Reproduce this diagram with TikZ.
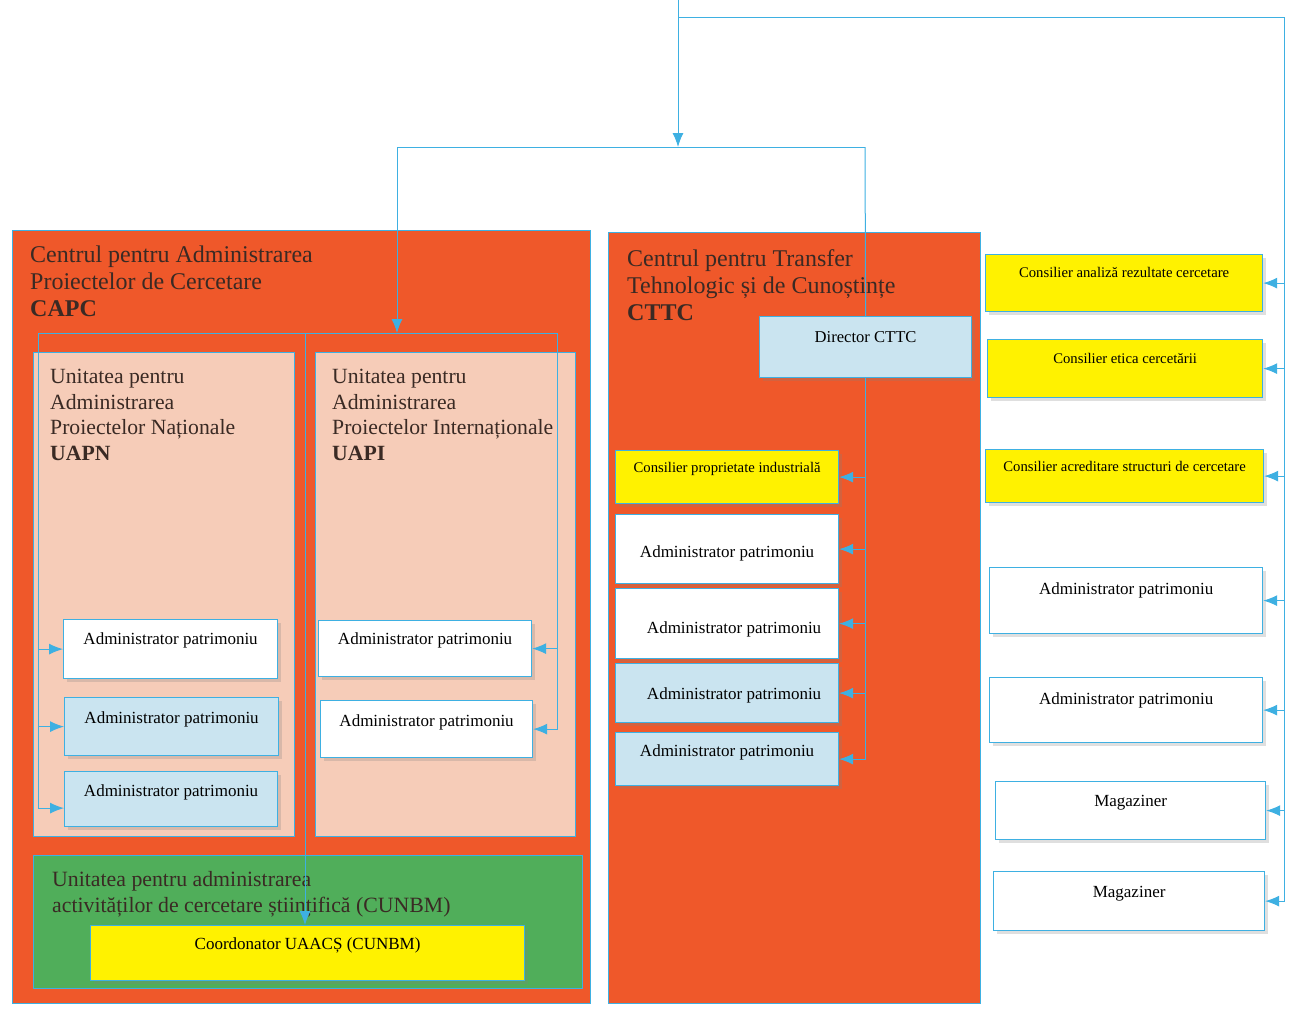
\documentclass[tikz,border=0pt]{standalone}
\usepackage{fontspec}
\setmainfont{Liberation Serif}
\usepackage{tikz}
\usetikzlibrary{arrows.meta}
\usetikzlibrary{shadows}
\definecolor{rosu}{RGB}{239,88,42}
\definecolor{piersica}{RGB}{246,204,184}
\definecolor{verde}{RGB}{80,174,90}
\definecolor{galben}{RGB}{255,242,0}
\definecolor{bleu}{RGB}{202,228,240}
\definecolor{linie}{RGB}{62,176,226}
\definecolor{titlu}{RGB}{58,42,36}
\tikzstyle{zona}=[draw=linie, line width=1.2pt, anchor=north west, inner sep=0pt]
\tikzstyle{caseta}=[zona, drop shadow={opacity=0.25, shadow xshift=3pt, shadow yshift=-3pt}]
\tikzstyle{eticheta}=[anchor=north, inner sep=0pt, font=\fontsize{17}{20}\selectfont]
\tikzstyle{mic}=[eticheta, font=\fontsize{14.7}{17}\selectfont]
\tikzstyle{titlumare}=[anchor=north west, inner sep=0pt, align=left, text=titlu,
font=\fontsize{24}{27}\selectfont]
\tikzstyle{titlumic}=[titlumare, font=\fontsize{21.7}{25.7}\selectfont]
\tikzstyle{legatura}=[draw=linie, line width=1pt]
\tikzstyle{sageata}=[legatura, -{Latex[length=14pt, width=11pt]}]

\begin{document}
\begin{tikzpicture}
	[x=1pt, y=-1pt]
	\useasboundingbox (0,0) rectangle (1289,1012);
	% centrele mari
	\node[zona, fill=rosu, minimum width=578pt, minimum height=773pt,
	label={[titlumare, xshift=18pt, yshift=-16pt]north west:{Centrul pentru Administrarea\\Proiectelor de Cercetare\\\textbf{CAPC}}}] (capc) at (12,230) {};
	\node[zona, fill=rosu, minimum width=372pt, minimum height=771pt,
	label={[titlumare, xshift=19pt, yshift=-17pt]north west:{Centrul pentru Transfer\\Tehnologic și de Cunoștințe\\\textbf{CTTC}}}] (cttc) at (608,232) {};
	
	% unitatile CAPC
	\node[zona, fill=piersica, minimum width=261pt, minimum height=484pt,
	label={[titlumic, xshift=17pt, yshift=-17pt]north west:{Unitatea pentru\\Administrarea\\Proiectelor Naționale\\\textbf{UAPN}}}] (uapn) at (33,352) {};
	\node[zona, fill=piersica, minimum width=260pt, minimum height=484pt,
	label={[titlumic, xshift=17pt, yshift=-17pt]north west:{Unitatea pentru\\Administrarea\\Proiectelor Internaționale\\\textbf{UAPI}}}] (uapi) at (315,352) {};
	\node[zona, fill=verde, minimum width=549pt, minimum height=133pt,
	label={[titlumic, font=\fontsize{21.8}{26}\selectfont, xshift=19pt, yshift=-16pt]north west:{Unitatea pentru administrarea\\activităților de cercetare științifică (CUNBM)}}] (cunbm) at (33,855) {};
	\node[caseta, fill=galben, minimum width=434pt, minimum height=55pt,
	label={[eticheta, yshift=-12pt]north:Coordonator UAACȘ (CUNBM)}] (coord) at (90,925) {};
	
	\node[caseta, fill=white, minimum width=214pt, minimum height=59pt,
	label={[eticheta, yshift=-13pt]north:Administrator patrimoniu}] (u1) at (63,619) {};
	\node[caseta, fill=bleu, minimum width=214pt, minimum height=58pt,
	label={[eticheta, yshift=-14pt]north:Administrator patrimoniu}] (u2) at (64,697) {};
	\node[caseta, fill=bleu, minimum width=213pt, minimum height=55pt,
	label={[eticheta, yshift=-13pt]north:Administrator patrimoniu}] (u3) at (64,771) {};
	\node[caseta, fill=white, minimum width=213pt, minimum height=56pt,
	label={[eticheta, yshift=-12pt]north:Administrator patrimoniu}] (i1) at (318,620) {};
	\node[caseta, fill=white, minimum width=212pt, minimum height=57pt,
	label={[eticheta, yshift=-14pt]north:Administrator patrimoniu}] (i2) at (320,700) {};
	
	% CTTC
	\node[caseta, fill=bleu, minimum width=212pt, minimum height=61pt,
	label={[eticheta, font=\fontsize{16.6}{20}\selectfont, yshift=-15pt]north:Director CTTC}] (dir) at (759,316) {};
	\node[caseta, fill=galben, minimum width=223pt, minimum height=53pt,
	label={[mic, yshift=-12pt]north:Consilier proprietate industrială}] (c1) at (615,450) {};
	\node[caseta, fill=white, minimum width=223pt, minimum height=69pt,
	label={[eticheta, yshift=-31pt]north:Administrator patrimoniu}] (c2) at (615,514) {};
	\node[caseta, fill=white, minimum width=223pt, minimum height=70pt,
	label={[eticheta, xshift=7pt, yshift=-33pt]north:Administrator patrimoniu}] (c3) at (615,588) {};
	\node[caseta, fill=bleu, minimum width=223pt, minimum height=59pt,
	label={[eticheta, xshift=7pt, yshift=-24pt]north:Administrator patrimoniu}] (c4) at (615,663) {};
	\node[caseta, fill=bleu, minimum width=223pt, minimum height=53pt,
	label={[eticheta, yshift=-12pt]north:Administrator patrimoniu}] (c5) at (615,732) {};
	
	% coloana din dreapta
	\node[caseta, fill=galben, minimum width=277pt, minimum height=57pt,
	label={[mic, yshift=-13pt]north:Consilier analiză rezultate cercetare}] (r1) at (985,254) {};
	\node[caseta, fill=galben, minimum width=275pt, minimum height=58pt,
	label={[mic, yshift=-14pt]north:Consilier etica cercetării}] (r2) at (987,339) {};
	\node[caseta, fill=galben, minimum width=278pt, minimum height=53pt,
	label={[mic, yshift=-12pt]north:Consilier acreditare structuri de cercetare}] (r3) at (985,449) {};
	\node[caseta, fill=white, minimum width=273pt, minimum height=66pt,
	label={[eticheta, yshift=-15pt]north:Administrator patrimoniu}] (r4) at (989,567) {};
	\node[caseta, fill=white, minimum width=273pt, minimum height=65pt,
	label={[eticheta, yshift=-15pt]north:Administrator patrimoniu}] (r5) at (989,677) {};
	\node[caseta, fill=white, minimum width=270pt, minimum height=58pt,
	label={[eticheta, yshift=-14pt]north:Magaziner}] (r6) at (995,781) {};
	\node[caseta, fill=white, minimum width=271pt, minimum height=59pt,
	label={[eticheta, yshift=-15pt]north:Magaziner}] (r7) at (993,871) {};
	
	% puncte de legatura
	\coordinate (sus) at (678,0);
	\coordinate (colt) at (678,17);
	\coordinate (dreapta) at (1284,17);
	\coordinate (nod) at (678,147);
	\coordinate (nodst) at (397,147);
	\coordinate (noddr) at (865,147);
	\coordinate (busst) at (397,333);
	\coordinate (magst) at (38,333);
	\coordinate (magmij) at (305,333);
	\coordinate (magdr) at (557,333);
	
	\draw[sageata] (sus) to (nod);
	\draw[legatura] (colt) to (dreapta);
	\draw[legatura] (nodst) to (noddr);
	\draw[sageata] (nodst) to (busst);
	\draw[legatura] (noddr) to (dir.north);
	\draw[legatura] (magst) to (magdr);
	\draw[sageata] (magmij) to (magmij |- coord.north);
	
	\draw[sageata] (magst) |- (u1.west);
	\draw[sageata] (magst) |- (u2.west);
	\draw[sageata] (magst) |- ([yshift=-9pt]u3.west);
	\draw[sageata] (magdr) |- (i1.east);
	\draw[sageata] (magdr) |- (i2.east);
	
	\draw[sageata] (dir.south) |- (c1.east);
	\draw[sageata] (dir.south) |- (c2.east);
	\draw[sageata] (dir.south) |- (c3.east);
	\draw[sageata] (dir.south) |- (c4.east);
	\draw[sageata] (dir.south) |- (c5.east);
	
	\draw[sageata] (dreapta) |- (r1.east);
	\draw[sageata] (dreapta) |- (r2.east);
	\draw[sageata] (dreapta) |- (r3.east);
	\draw[sageata] (dreapta) |- (r4.east);
	\draw[sageata] (dreapta) |- (r5.east);
	\draw[sageata] (dreapta) |- (r6.east);
	\draw[sageata] (dreapta) |- (r7.east);
\end{tikzpicture}
\end{document}
